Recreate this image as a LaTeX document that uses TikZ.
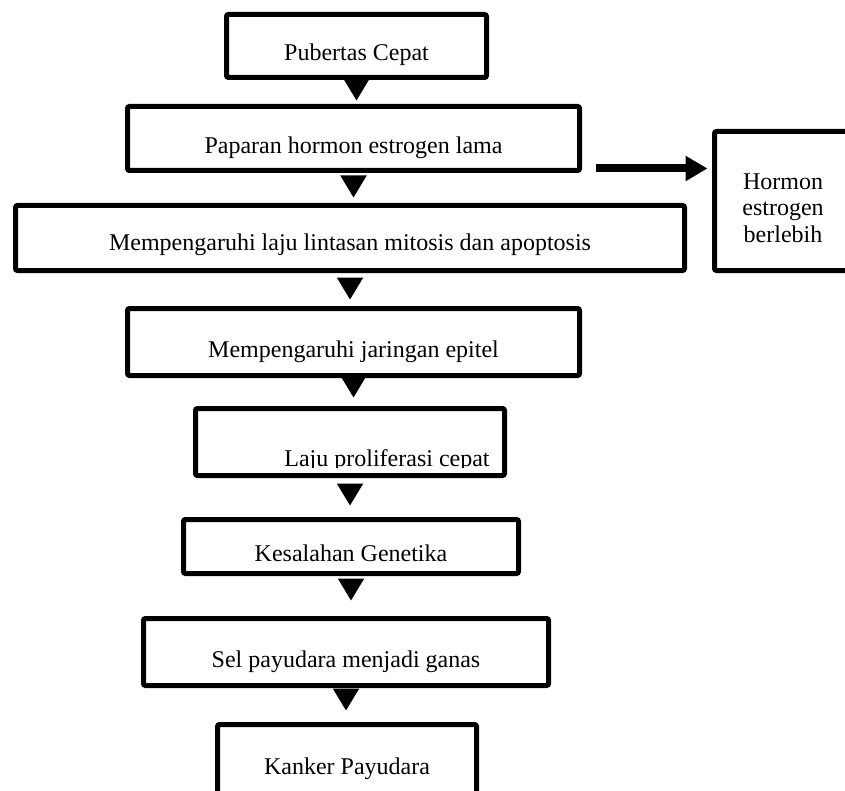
\documentclass[tikz,border=0pt]{standalone}
\usepackage{fontspec}
\setmainfont{Liberation Serif}
\usepackage{tikz}
\usetikzlibrary{arrows.meta,calc}
\tikzset{
  flowbox/.style={
    draw,
    line width=2.5pt,
    rounded corners=1pt,
    fill=white,
    inner sep=0pt,
    text height=15pt,
    text depth=0pt
  },
  hormonbox/.style={
    draw,
    line width=2.5pt,
    rounded corners=1pt,
    fill=white,
    inner sep=0pt,
    align=center
  },
  downarrow/.style={
    line width=1pt,
    -{Triangle[width=13pt,length=11pt]}
  },
  sidearrow/.style={
    line width=4pt,
    -{Triangle[width=12pt,length=11pt]},
    shorten >=2.25pt
  }
}
\begin{document}
\begin{tikzpicture}[x=0.5pt, y=-0.5pt, font=\fontsize{12}{13.3}\selectfont]
        \useasboundingbox (0,0) rectangle (845,791);
        \clip (0,0) rectangle (845,791);
        %
        \node[flowbox, minimum width=130pt, minimum height=31.5pt] (pubertas) at (356.5,46) {Pubertas Cepat};
        \node[flowbox, minimum width=226pt, minimum height=32pt] (paparan) at (353.5,138.5) {Paparan hormon estrogen lama};
        \node[flowbox, minimum width=334.5pt, minimum height=32.5pt, text height=12pt] (mitosis) at (350,238) {Mempengaruhi laju lintasan mitosis dan apoptosis};
        \node[hormonbox, minimum width=68.5pt, minimum height=69.5pt] (hormon) at (783,201) {\rule{0pt}{15pt}Hormon\\estrogen\\berlebih};
        \node[flowbox, minimum width=226pt, minimum height=33.5pt] (epitel) at (353.5,342) {Mempengaruhi jaringan epitel};
        \node[flowbox, minimum width=154.5pt, minimum height=33.5pt] (proliferasi) at (350,442) {};
        \begin{scope}
          \clip (196,409) rectangle (504,467);
          \node[anchor=base] (prolitext) at (387,466) {Laju proliferasi cepat};
        \end{scope}
        \node[flowbox, minimum width=167.5pt, minimum height=27pt] (genetika) at (351,546.5) {Kesalahan Genetika};
        \node[flowbox, minimum width=202.5pt, minimum height=33.5pt] (ganas) at (346,652) {Sel payudara menjadi ganas};
        \node[flowbox, minimum width=129.5pt, minimum height=34.5pt] (kanker) at (347,759) {Kanker Payudara};
        %
        \draw[downarrow, shorten <=1.75pt, shorten >=1.75pt] (pubertas.south) -- (pubertas.south |- paparan.north);
        \draw[downarrow, shorten <=3.75pt, shorten >=2.75pt] (paparan.south) -- (paparan.south |- mitosis.north);
        \draw[downarrow, shorten <=4.75pt, shorten >=3.25pt] (mitosis.south) -- (mitosis.south |- epitel.north);
        \draw[downarrow, shorten <=1.25pt, shorten >=4.25pt] (epitel.south) -- (epitel.south |- proliferasi.north);
        \draw[downarrow, shorten <=5.25pt, shorten >=5.75pt] (proliferasi.south) -- (proliferasi.south |- genetika.north);
        \draw[downarrow, shorten <=3.75pt, shorten >=7.75pt] (genetika.south) -- (genetika.south |- ganas.north);
        \draw[downarrow, shorten <=2.75pt, shorten >=5.75pt] (ganas.south) -- (ganas.south |- kanker.north);
        %
        \coordinate (sidestart) at ([xshift=6.75pt,yshift=2.25pt]paparan.south east);
        \draw[sidearrow] (sidestart) -- (sidestart -| hormon.west);
    \end{tikzpicture}
\end{document}
